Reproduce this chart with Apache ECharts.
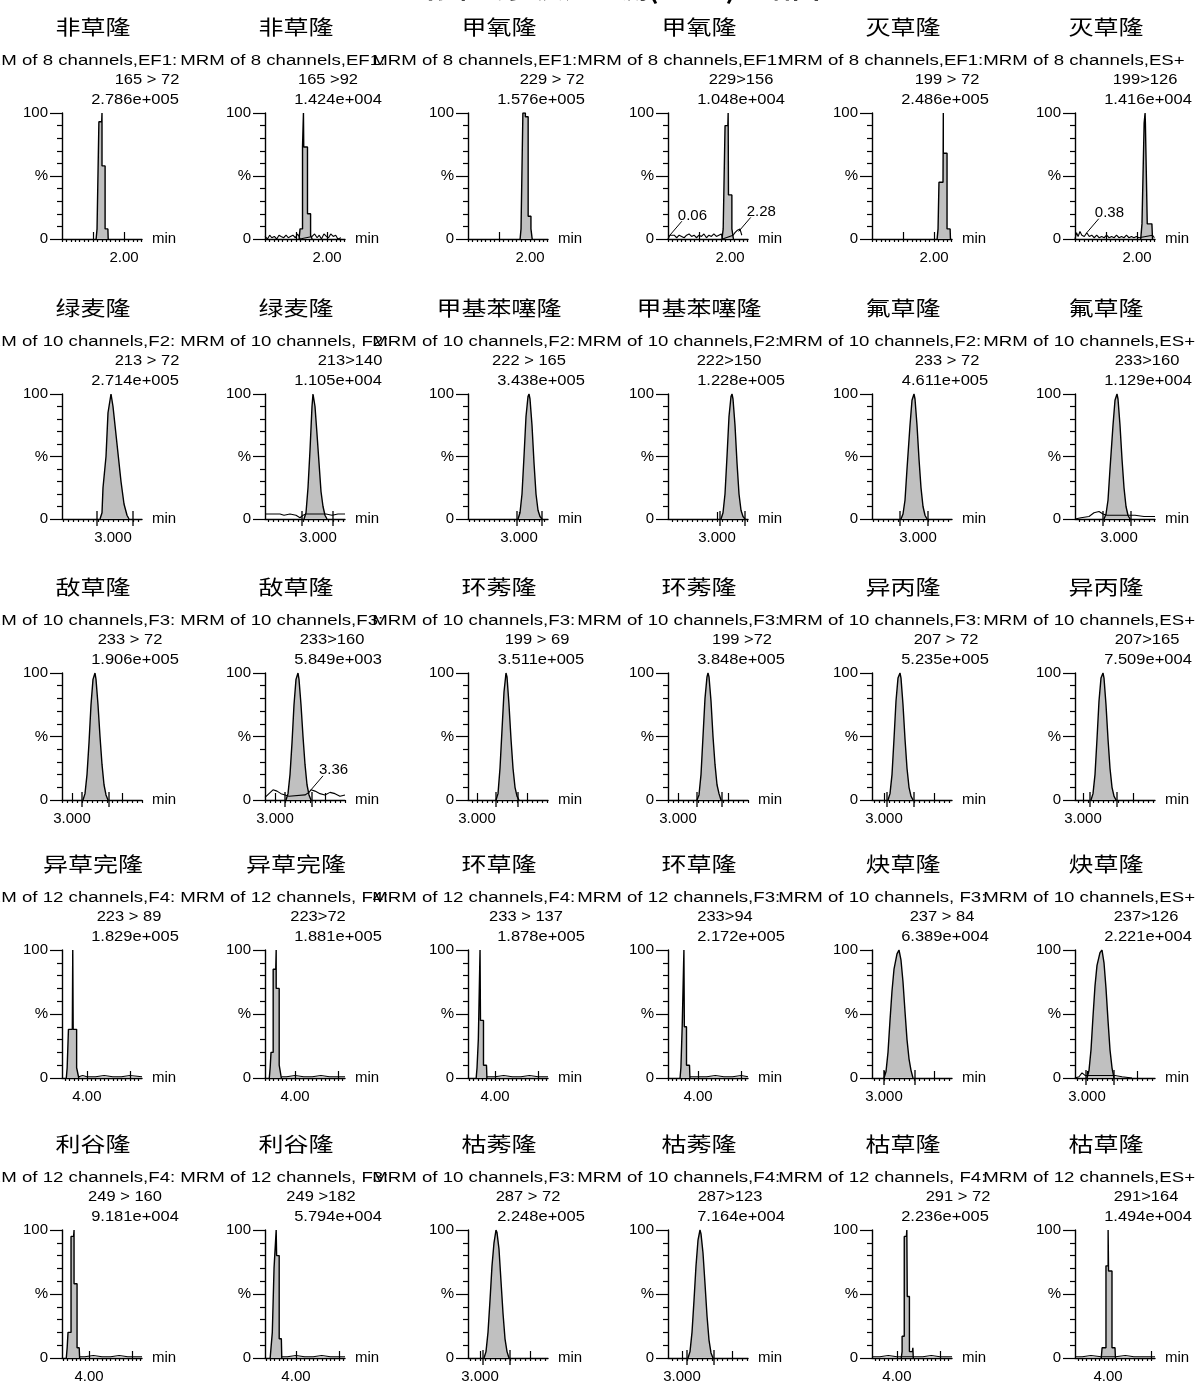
<!DOCTYPE html>
<html><head><meta charset="utf-8">
<script src="https://cdn.jsdelivr.net/npm/echarts@6/dist/echarts.min.js"></script>
<style>html,body{margin:0;padding:0;background:#fff}#c{width:1200px;height:1387px}</style>
</head><body><div id="c"></div>
<script>
// ---------------- DATA (panel order: row by row, left to right) ----------------
const NAMES = ['非草隆','非草隆','甲氧隆','甲氧隆','灭草隆','灭草隆',
  '绿麦隆','绿麦隆','甲基苯噻隆','甲基苯噻隆','氟草隆','氟草隆',
  '敌草隆','敌草隆','环莠隆','环莠隆','异丙隆','异丙隆',
  '异草完隆','异草完隆','环草隆','环草隆','炔草隆','炔草隆',
  '利谷隆','利谷隆','枯莠隆','枯莠隆','枯草隆','枯草隆'];
const CHANNELS = [
  'MRM of 8 channels,EF1:','MRM of 8 channels,EF1:','MRM of 8 channels,EF1:','MRM of 8 channels,EF1:','MRM of 8 channels,EF1:','MRM of 8 channels,ES+',
  'MRM of 10 channels,F2:','MRM of 10 channels, F2:','MRM of 10 channels,F2:','MRM of 10 channels,F2:','MRM of 10 channels,F2:','MRM of 10 channels,ES+',
  'MRM of 10 channels,F3:','MRM of 10 channels,F3:','MRM of 10 channels,F3:','MRM of 10 channels,F3:','MRM of 10 channels,F3:','MRM of 10 channels,ES+',
  'MRM of 12 channels,F4:','MRM of 12 channels, F4:','MRM of 12 channels,F4:','MRM of 12 channels,F3:','MRM of 10 channels, F3:','MRM of 10 channels,ES+',
  'MRM of 12 channels,F4:','MRM of 12 channels, F3:','MRM of 10 channels,F3:','MRM of 10 channels,F4:','MRM of 12 channels, F4:','MRM of 12 channels,ES+'];
const TRANSITIONS = ['165 > 72','165 >92','229 > 72','229>156','199 > 72','199>126',
  '213 > 72','213>140','222 > 165','222>150','233 > 72','233>160',
  '233 > 72','233>160','199 > 69','199 >72','207 > 72','207>165',
  '223 > 89','223>72','233 > 137','233>94','237 > 84','237>126',
  '249 > 160','249 >182','287 > 72','287>123','291 > 72','291>164'];
const INTENSITIES = ['2.786e+005','1.424e+004','1.576e+005','1.048e+004','2.486e+005','1.416e+004',
  '2.714e+005','1.105e+004','3.438e+005','1.228e+005','4.611e+005','1.129e+004',
  '1.906e+005','5.849e+003','3.511e+005','3.848e+005','5.235e+005','7.509e+004',
  '1.829e+005','1.881e+005','1.878e+005','2.172e+005','6.389e+004','2.221e+004',
  '9.181e+004','5.794e+004','2.248e+005','7.164e+004','2.236e+005','1.494e+004'];
const X_MIN = [0,0,0,0,0,0,
  2.49,2.47,2.49,2.51,2.54,2.56,
  2.90,2.90,2.91,2.90,2.88,2.92,
  3.42,3.30,3.37,3.30,2.88,2.88,
  3.37,3.28,2.88,2.86,3.42,3.23];
const X_MAX = [2.58,2.58,2.58,2.58,2.58,2.58,
  3.29,3.27,3.29,3.31,3.34,3.36,
  3.70,3.70,3.71,3.70,3.68,3.72,
  5.28,5.16,5.23,5.16,3.68,3.68,
  5.23,5.14,3.68,3.66,5.28,5.09];
const X_LABEL_VALUE = [2,2,2,2,2,2, 3,3,3,3,3,3, 3,3,3,3,3,3, 4,4,4,4,3,3, 4,4,3,3,4,4];
const X_LABEL_TEXT = ['2.00','2.00','2.00','2.00','2.00','2.00',
  '3.000','3.000','3.000','3.000','3.000','3.000',
  '3.000','3.000','3.000','3.000','3.000','3.000',
  '4.00','4.00','4.00','4.00','3.000','3.000',
  '4.00','4.00','3.000','3.000','4.00','4.00'];
const X_MAJOR = [[1,2],[1,2],[1,2],[1,2],[1,2],[1,2],
  [3],[3],[3],[3],[3],[3],
  [3,3.5],[3,3.5],[3,3.5],[3,3.5],[3,3.5],[3,3.5],
  [4,5],[4,5],[4,5],[4,5],[3,3.5],[3,3.5],
  [4,5],[4,5],[3,3.5],[3,3.5],[4,5],[4,5]];
const X_MINOR_STEP = [1/7,1/7,1/7,1/7,1/7,1/7,
  0.05,0.05,0.05,0.05,0.05,0.05,
  0.05,0.05,0.05,0.05,0.05,0.05,
  0.1,0.1,0.1,0.1,0.05,0.05,
  0.1,0.1,0.05,0.05,0.1,0.1];
const PEAKS = [
  [[1.10,0],[1.13,8],[1.19,8],[1.19,93],[1.28,93],[1.29,100],[1.29,58],[1.39,58],[1.39,8],[1.48,8],[1.49,0]],
  [[1.10,0],[1.13,8],[1.21,8],[1.21,73],[1.23,73],[1.24,100],[1.25,73],[1.37,73],[1.37,20],[1.47,20],[1.47,3],[1.52,0]],
  [[1.68,0],[1.71,8],[1.77,8],[1.77,100],[1.85,100],[1.85,97],[1.94,97],[1.94,18],[2.03,18],[2.03,8],[2.06,8],[2.07,0]],
  [[1.74,0],[1.78,8],[1.84,8],[1.84,90],[1.93,90],[1.94,100],[1.95,35],[2.06,35],[2.06,8],[2.10,8],[2.11,0]],
  [[2.10,0],[2.13,8],[2.16,8],[2.16,45],[2.29,45],[2.30,100],[2.30,68],[2.42,68],[2.42,8],[2.52,8],[2.53,0]],
  [[2.12,0],[2.16,12],[2.22,12],[2.23,92],[2.25,92],[2.26,100],[2.27,92],[2.32,92],[2.33,12],[2.48,12],[2.50,0]],
  [[2.87,0],[2.89,5],[2.90,25],[2.93,50],[2.95,85],[2.98,100],[3.00,90],[3.04,60],[3.08,30],[3.11,12],[3.14,3],[3.16,0]],
  [[2.86,0],[2.88,5],[2.90,25],[2.92,55],[2.94,90],[2.95,100],[2.97,90],[2.99,68],[3.01,45],[3.03,22],[3.05,10],[3.07,3],[3.09,0]],
  [[2.99,0],[3.01,5],[3.03,20],[3.05,50],[3.07,82],[3.09,98],[3.10,100],[3.11,96],[3.13,75],[3.15,45],[3.17,20],[3.19,7],[3.21,2],[3.23,0]],
  [[3.04,0],[3.06,5],[3.08,20],[3.10,50],[3.12,82],[3.14,98],[3.15,100],[3.16,96],[3.18,75],[3.20,45],[3.22,20],[3.24,7],[3.26,2],[3.28,0]],
  [[2.83,0],[2.85,4],[2.87,15],[2.89,40],[2.92,75],[2.94,95],[2.96,100],[2.97,96],[2.99,75],[3.01,48],[3.03,25],[3.05,10],[3.07,3],[3.09,0]],
  [[2.85,0],[2.87,4],[2.89,15],[2.91,40],[2.94,75],[2.96,95],[2.98,100],[2.99,96],[3.01,75],[3.03,48],[3.05,25],[3.07,10],[3.09,3],[3.11,0]],
  [[3.11,0],[3.13,5],[3.15,20],[3.17,45],[3.19,75],[3.21,95],[3.23,100],[3.24,95],[3.26,75],[3.28,50],[3.30,28],[3.32,12],[3.34,4],[3.36,0]],
  [[3.11,0],[3.13,5],[3.15,20],[3.17,45],[3.19,75],[3.21,95],[3.23,100],[3.24,95],[3.26,75],[3.28,50],[3.30,28],[3.32,12],[3.34,4],[3.36,0]],
  [[3.19,0],[3.21,5],[3.23,25],[3.25,55],[3.27,85],[3.29,100],[3.30,97],[3.32,75],[3.34,48],[3.36,25],[3.38,10],[3.40,3],[3.42,0]],
  [[3.19,0],[3.21,4],[3.23,20],[3.25,50],[3.27,80],[3.29,97],[3.30,100],[3.31,97],[3.33,78],[3.35,50],[3.37,28],[3.39,12],[3.41,5],[3.43,0]],
  [[3.04,0],[3.06,5],[3.08,20],[3.10,48],[3.12,78],[3.14,96],[3.16,100],[3.17,96],[3.19,75],[3.21,48],[3.23,25],[3.25,10],[3.27,3],[3.29,0]],
  [[3.08,0],[3.10,5],[3.12,20],[3.14,48],[3.16,78],[3.18,96],[3.20,100],[3.21,96],[3.23,75],[3.25,48],[3.27,25],[3.29,10],[3.31,3],[3.33,0]],
  [[3.52,0],[3.54,8],[3.57,8],[3.57,38],[3.66,38],[3.67,100],[3.68,38],[3.76,38],[3.76,8],[3.80,8],[3.81,0]],
  [[3.40,0],[3.42,8],[3.44,8],[3.44,20],[3.49,20],[3.49,85],[3.55,85],[3.56,100],[3.56,70],[3.63,70],[3.63,10],[3.67,10],[3.68,0]],
  [[3.56,0],[3.58,8],[3.61,8],[3.61,30],[3.64,30],[3.65,100],[3.66,45],[3.73,45],[3.73,10],[3.80,10],[3.81,0]],
  [[3.58,0],[3.60,8],[3.63,8],[3.63,40],[3.66,40],[3.67,100],[3.68,40],[3.73,40],[3.73,10],[3.80,10],[3.81,0]],
  [[3.00,0],[3.02,5],[3.04,20],[3.06,45],[3.08,68],[3.10,85],[3.13,97],[3.15,100],[3.17,92],[3.19,75],[3.21,52],[3.23,30],[3.25,15],[3.27,6],[3.29,0]],
  [[3.00,0],[3.02,6],[3.04,22],[3.06,48],[3.08,72],[3.10,88],[3.13,98],[3.15,100],[3.17,90],[3.19,70],[3.21,45],[3.23,22],[3.25,8],[3.27,0]],
  [[3.47,0],[3.49,8],[3.51,8],[3.51,20],[3.58,20],[3.58,95],[3.64,95],[3.65,100],[3.65,58],[3.72,58],[3.72,8],[3.77,8],[3.78,0]],
  [[3.40,0],[3.42,8],[3.45,8],[3.45,20],[3.49,20],[3.49,70],[3.53,70],[3.54,100],[3.55,80],[3.61,80],[3.61,15],[3.66,15],[3.67,0]],
  [[3.04,0],[3.06,5],[3.08,20],[3.10,45],[3.12,72],[3.14,90],[3.16,100],[3.17,98],[3.19,85],[3.21,60],[3.23,35],[3.25,15],[3.27,5],[3.29,0]],
  [[3.06,0],[3.08,5],[3.10,20],[3.12,45],[3.14,72],[3.16,92],[3.18,100],[3.19,97],[3.21,82],[3.23,58],[3.25,33],[3.27,14],[3.29,4],[3.31,0]],
  [[4.10,0],[4.12,5],[4.12,17],[4.17,17],[4.17,95],[4.22,95],[4.23,100],[4.24,48],[4.29,48],[4.29,5],[4.36,5],[4.37,8],[4.38,0]],
  [[3.84,0],[3.86,8],[3.95,8],[3.95,72],[4.00,72],[4.00,100],[4.01,68],[4.09,68],[4.09,8],[4.16,8],[4.17,0]]
];
const NOISE = [
  [],
  [[0.00,2],[0.08,0],[0.15,3],[0.22,1],[0.30,2],[0.38,0],[0.45,3],[0.52,2],[0.60,1],[0.68,3],[0.75,1],[0.82,2],[0.90,3],[0.98,1],[1.05,4],[1.10,2],[1.13,0],[1.52,2],[1.60,4],[1.68,1],[1.75,3],[1.82,0],[1.90,4],[1.98,2],[2.05,1],[2.12,4],[2.20,2],[2.28,3],[2.35,0],[2.45,1]],
  [],
  [[0.00,0],[0.06,3],[0.12,2],[0.20,3],[0.28,1],[0.36,3],[0.44,2],[0.52,1],[0.60,3],[0.68,4],[0.76,2],[0.84,3],[0.92,1],[1.00,3],[1.08,2],[1.16,4],[1.24,1],[1.32,3],[1.40,2],[1.48,4],[1.56,2],[1.64,3],[1.72,4],[1.76,0],[2.10,3],[2.16,5],[2.20,4],[2.24,7],[2.28,6],[2.32,8],[2.38,3]],
  [],
  [[0.00,0],[0.05,5],[0.10,2],[0.16,6],[0.22,3],[0.30,2],[0.38,5],[0.46,2],[0.54,3],[0.62,1],[0.70,3],[0.78,1],[0.86,2],[0.94,1],[1.02,3],[1.10,1],[1.18,2],[1.26,1],[1.34,3],[1.42,1],[1.50,2],[1.58,1],[1.66,3],[1.74,1],[1.82,2],[1.90,1],[1.98,2],[2.06,1],[2.12,2],[2.50,3],[2.56,1]],
  [],
  [[2.47,4],[2.55,4],[2.62,4],[2.66,3],[2.72,4],[2.78,3],[2.82,1],[2.85,3],[2.88,4],[3.08,4],[3.14,3],[3.20,4],[3.27,4]],
  [],[],[],
  [[2.56,0],[2.62,1],[2.70,2],[2.75,5],[2.80,6],[2.84,4],[2.88,3],[3.10,3],[3.16,3],[3.25,2],[3.36,2]],
  [],
  [[2.90,2],[2.94,5],[2.98,8],[3.02,7],[3.06,5],[3.10,4],[3.14,3],[3.30,4],[3.34,6],[3.36,8],[3.40,7],[3.45,5],[3.50,4],[3.55,6],[3.60,5],[3.65,3],[3.70,4]],
  [],[],[],[],
  [[3.81,1],[3.90,2],[4.00,1],[4.20,1],[4.40,2],[4.60,1],[4.80,1],[5.00,2],[5.28,1]],
  [[3.68,1],[3.80,1],[4.00,2],[4.20,1],[4.40,1],[4.60,2],[4.80,1],[5.00,1],[5.16,1]],
  [[3.81,1],[4.00,1],[4.20,2],[4.40,1],[4.60,1],[4.80,2],[5.00,1],[5.23,1]],
  [[3.81,1],[4.00,1],[4.20,1],[4.40,2],[4.60,1],[4.80,1],[5.00,2],[5.16,1]],
  [],
  [[2.88,0],[2.92,1],[2.95,4],[2.98,2],[3.00,2],[3.28,2],[3.35,1],[3.45,0]],
  [[3.78,1],[3.90,1],[4.10,2],[4.30,1],[4.50,1],[4.70,2],[4.90,1],[5.23,1]],
  [[3.67,1],[3.80,1],[4.00,2],[4.20,1],[4.40,1],[4.60,2],[4.80,1],[5.14,1]],
  [],[],
  [[3.42,1],[3.60,1],[3.80,2],[4.00,1],[4.10,1],[4.38,1],[4.60,1],[4.80,2],[5.00,1],[5.28,1]],
  [[3.23,1],[3.40,1],[3.60,2],[3.84,1],[4.17,1],[4.40,2],[4.60,1],[4.80,1],[5.09,1]]
];
const MARKERS = [[],[],[],[],[],[],
  [2.84,3.20],[2.84,3.15],[2.98,3.23],[3.03,3.28],[2.82,3.10],[2.84,3.12],
  [3.10,3.37],[3.10,3.37],[3.19,3.41],[3.19,3.44],[3.03,3.30],[3.07,3.34],
  [],[],[],[],[3.00,3.31],[2.99,3.27],
  [],[],[3.03,3.30],[3.05,3.32],[],[]];
const ANNOTATIONS = {3: [[0.06,3,'0.06'],[2.28,6,'2.28']], 5: [[0.38,5,'0.38']], 13: [[3.36,8,'3.36']]};
const PAGE_TITLE = '标准的多反应监测(MRM)色谱图';

// ---------------- LAYOUT ----------------
const COL_X = [62, 265, 468, 668, 872, 1075];
const ROW_TOP = [113, 394, 673, 950, 1230];
const ROW_BOT = [239, 519, 800, 1078, 1358];
const PLOT_W = 80;
const OF_X = [22, 230, 422, 627, 828, 1033];
const TRANS_DX = [85,63,84,73,75,70, 85,85,61,61,75,72, 68,67,69,74,74,72, 67,53,58,57,70,71, 63,56,60,62,86,71];
const SANS = '"Liberation Sans", Arial, sans-serif';
const CJK = '"Noto Sans CJK SC", sans-serif';

const mctx = document.createElement('canvas').getContext('2d');
function tw(text, font) { mctx.font = font; return mctx.measureText(text).width; }

const grids = [], xAxes = [], yAxes = [], series = [], graphics = [];
for (let i = 0; i < 30; i++) {
  const r = Math.floor(i / 6), c = i % 6;
  const left = COL_X[c], top = ROW_TOP[r], h = ROW_BOT[r] - ROW_TOP[r];
  grids.push({left: left, top: top, width: PLOT_W, height: h});
  const step = X_MINOR_STEP[i];
  const minors = [];
  for (let k = Math.ceil(X_MIN[i] / step - 1e-6); k * step <= X_MAX[i] + 1e-9; k++) minors.push(+(k * step).toFixed(4));
  const lt = X_LABEL_TEXT[i];
  xAxes.push({
    gridIndex: i, type: 'value', min: X_MIN[i], max: X_MAX[i],
    axisLine: {show: true, onZero: false, lineStyle: {color: '#000', width: 1.4}},
    axisTick: {show: true, customValues: minors, length: 3, lineStyle: {color: '#000', width: 1.2}},
    axisLabel: {show: true, customValues: [X_LABEL_VALUE[i]], formatter: () => lt, color: '#000', fontSize: 15, fontFamily: SANS, margin: 11},
    splitLine: {show: false},
    name: 'min', nameLocation: 'end', nameGap: 10,
    nameTextStyle: {color: '#000', fontSize: 15, fontFamily: SANS, verticalAlign: 'middle'}
  });
  xAxes.push({
    gridIndex: i, type: 'value', min: X_MIN[i], max: X_MAX[i],
    axisLine: {show: false},
    axisTick: {show: true, customValues: X_MAJOR[i], length: 7, lineStyle: {color: '#000', width: 1.2}},
    axisLabel: {show: false}, splitLine: {show: false}
  });
  yAxes.push({
    gridIndex: i, type: 'value', min: 0, max: 100, interval: 50,
    axisLine: {show: true, lineStyle: {color: '#000', width: 1.4}},
    axisTick: {show: true, length: 12, lineStyle: {color: '#000', width: 1.2}},
    minorTick: {show: true, splitNumber: 5, length: 5, lineStyle: {color: '#000', width: 1.2}},
    axisLabel: {formatter: v => v === 100 ? '100' : (v === 50 ? '%' : (v === 0 ? '0' : '')), color: '#000', fontSize: 15, fontFamily: SANS, margin: 14},
    splitLine: {show: false}, minorSplitLine: {show: false}
  });
  if (NOISE[i].length) {
    series.push({type: 'line', xAxisIndex: 2 * i, yAxisIndex: i, data: NOISE[i], symbol: 'none', silent: true,
      lineStyle: {color: '#000', width: 1.1}, z: 4});
  }
  series.push({type: 'line', xAxisIndex: 2 * i, yAxisIndex: i, data: PEAKS[i], symbol: 'none', silent: true,
    lineStyle: {color: '#000', width: 1.4}, areaStyle: {color: '#c0c0c0', opacity: 1, origin: 'start'}, z: 3});
  if (MARKERS[i].length) {
    series.push({type: 'custom', xAxisIndex: 2 * i, yAxisIndex: i, clip: false, silent: true, z: 5,
      data: MARKERS[i].map(t => [t, 0]), encode: {x: 0, y: 1},
      renderItem: (params, api) => {
        const p = api.coord([api.value(0), 0]);
        return {type: 'line', shape: {x1: p[0], y1: p[1] - 8, x2: p[0], y2: p[1] + 7}, style: {stroke: '#000', lineWidth: 1.3}};
      }});
  }
  if (ANNOTATIONS[i]) {
    const ann = ANNOTATIONS[i];
    series.push({type: 'custom', xAxisIndex: 2 * i, yAxisIndex: i, clip: false, silent: true, z: 6,
      data: ann.map(a => [a[0], a[1]]), encode: {x: 0, y: 1},
      renderItem: (params, api) => {
        const p = api.coord([api.value(0), api.value(1)]);
        return {type: 'group', children: [
          {type: 'line', shape: {x1: p[0], y1: p[1], x2: p[0] + 12, y2: p[1] - 14}, style: {stroke: '#000', lineWidth: 1}},
          {type: 'text', x: p[0] + 8, y: p[1] - 12, style: {text: ann[params.dataIndex][2], font: '15px ' + SANS, fill: '#000', align: 'left', verticalAlign: 'bottom'}}
        ]};
      }});
  }
  // texts
  graphics.push({type: 'text', x: left + 31, y: top - 86, scaleX: 1.25, silent: true,
    style: {text: NAMES[i], font: '20px ' + CJK, fill: '#000', align: 'center', verticalAlign: 'middle'}});
  const chFont = '14px ' + SANS, SCX = 1.33;
  graphics.push({type: 'text', x: OF_X[c] - tw('MRM ', chFont) * SCX, y: top - 52, scaleX: SCX, silent: true,
    style: {text: CHANNELS[i], font: chFont, fill: '#000', align: 'left', verticalAlign: 'middle'}});
  graphics.push({type: 'text', x: left + TRANS_DX[i], y: top - 33, scaleX: 1.1, silent: true,
    style: {text: TRANSITIONS[i], font: '15px ' + SANS, fill: '#000', align: 'center', verticalAlign: 'middle'}});
  graphics.push({type: 'text', x: left + 73, y: top - 13, scaleX: 1.1, silent: true,
    style: {text: INTENSITIES[i], font: '15px ' + SANS, fill: '#000', align: 'center', verticalAlign: 'middle'}});
}
graphics.push({type: 'text', x: 622, y: 1, silent: true,
  style: {text: PAGE_TITLE, font: 'bold 28px ' + CJK, fill: '#000', align: 'center', verticalAlign: 'bottom'}});

const chart = echarts.init(document.getElementById('c'));
chart.setOption({
  animation: false,
  backgroundColor: '#fff',
  grid: grids, xAxis: xAxes, yAxis: yAxes, series: series, graphic: graphics
});
</script></body></html>
